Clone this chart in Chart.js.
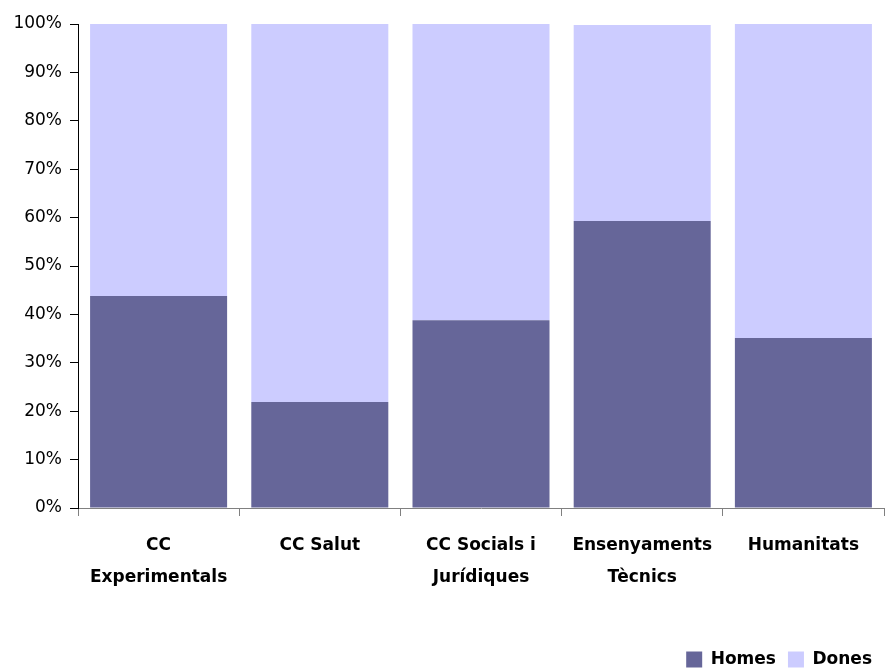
<!DOCTYPE html>
<html lang="ca">
<head>
<meta charset="UTF-8">
<title>Homes i Dones per àmbit</title>
<script src="https://cdn.jsdelivr.net/npm/chart.js"></script>
<style>
    body { margin: 0; background: #fff; }
    #wrap { width: 890px; height: 668px; }
</style>
</head>
<body>
<div id="wrap"><canvas id="chart"></canvas></div>
<script>
    const categories = [['CC', 'Experimentals'], 'CC Salut', ['CC Socials i', 'Jurídiques'], ['Ensenyaments', 'Tècnics'], 'Humanitats'];
    const homes = [43.8, 21.9, 38.8, 59.3, 35.1];
    const dones = [56.2, 78.1, 61.2, 40.5, 64.9];
    const yTicks = [0, 10, 20, 30, 40, 50, 60, 70, 80, 90, 100];

    const font = "'DejaVu Sans', sans-serif";

    new Chart(document.getElementById('chart'), {
        type: 'bar',
        data: {
            labels: categories,
            datasets: [
                { label: 'Homes', data: homes, backgroundColor: '#666699', barPercentage: 0.85, categoryPercentage: 1 },
                { label: 'Dones', data: dones, backgroundColor: '#ccccff', barPercentage: 0.85, categoryPercentage: 1 }
            ]
        },
        options: {
            responsive: true,
            maintainAspectRatio: false,
            animation: false,
            // negative bottom padding pushes the legend down to the canvas edge
            layout: { padding: { top: 24, right: 6, left: 0, bottom: -10 } },
            plugins: {
                tooltip: { enabled: false },
                legend: {
                    position: 'bottom',
                    align: 'end',
                    labels: {
                        boxWidth: 16,
                        boxHeight: 16,
                        padding: 12,
                        color: '#000',
                        font: { family: font, size: 17, weight: 'bold' }
                    }
                }
            },
            scales: {
                x: {
                    stacked: true,
                    grid: { offset: true, drawOnChartArea: false, tickLength: 8, color: '#808080' },
                    border: { color: '#808080', width: 1 },
                    ticks: {
                        color: '#000',
                        padding: 14,
                        maxRotation: 0,
                        font: { family: font, size: 17, weight: 'bold', lineHeight: 1.88 }
                    },
                    afterFit: s => { s.height = 131; }
                },
                y: {
                    stacked: true,
                    min: 0,
                    max: 100,
                    afterBuildTicks: s => { s.ticks = yTicks.map(v => ({ value: v })); },
                    grid: { drawOnChartArea: false, tickLength: 8, color: '#000' },
                    border: { color: '#000', width: 1 },
                    ticks: {
                        color: '#000',
                        padding: 8,
                        font: { family: font, size: 17 },
                        callback: v => v + '%'
                    },
                    afterFit: s => { s.width = 78; }
                }
            }
        }
    });
</script>
</body>
</html>
